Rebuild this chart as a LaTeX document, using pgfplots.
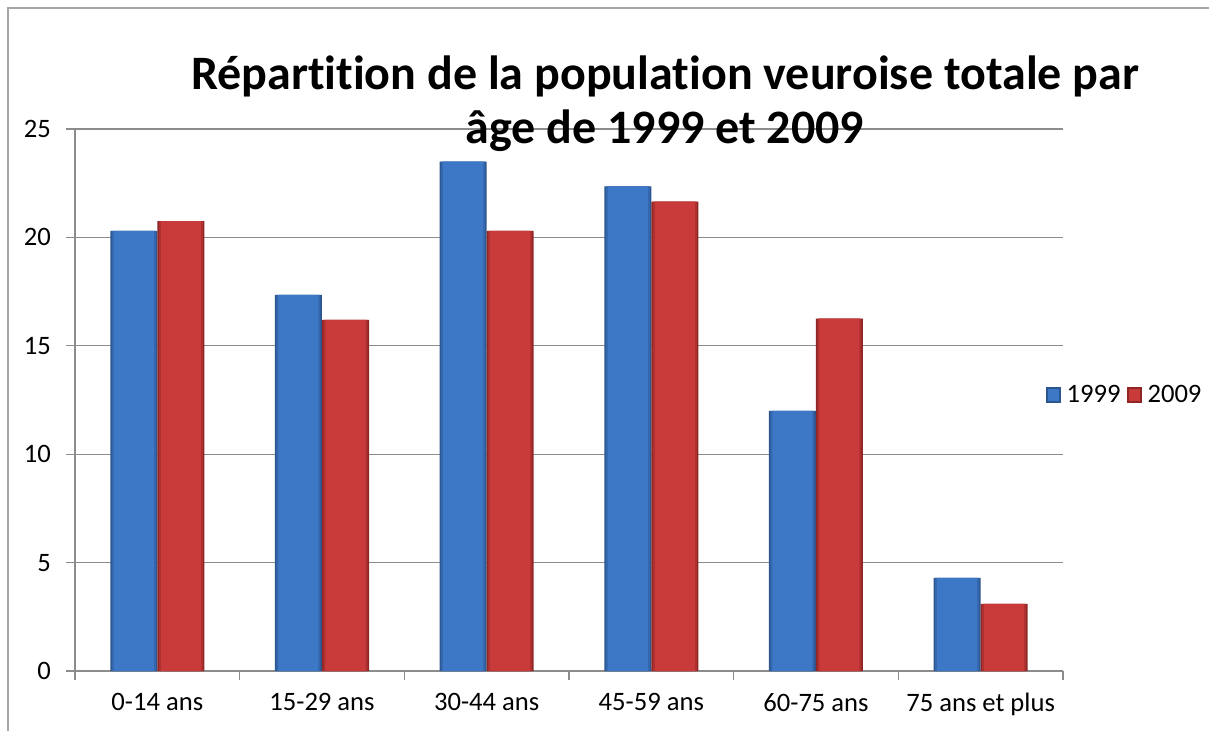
\documentclass[border=0pt]{standalone}
\usepackage{pgfplots}
\pgfplotsset{compat=1.18}
\usepackage{fontspec}
\setmainfont{Carlito}[Ligatures={NoCommon}]
\definecolor{blueedge}{HTML}{2B5690}
\definecolor{bluemid}{HTML}{3467AE}
\definecolor{bluemain}{HTML}{3C78C6}
\definecolor{rededge}{HTML}{8E2626}
\definecolor{redmid}{HTML}{AE3030}
\definecolor{redmain}{HTML}{C93B3B}
\definecolor{gridgray}{HTML}{8C8C8C}
\pgfplotstableread{
x y1999 y2009
0 20.3 20.75
1 17.35 16.2
2 23.5 20.3
3 22.35 21.65
4 12.0 16.25
5 4.3 3.1
}\data
\begin{document}
\begin{tikzpicture}[x=0.5pt,y=-0.5pt]
\path[use as bounding box] (0,0) rectangle (1209,731);
\draw[gray!70, line width=1pt] (8,731) -- (8,8) -- (1209,8);
\begin{axis}[
  at={(37.5pt,-335.5pt)}, anchor=south west,
  scale only axis, width=494pt, height=271pt,
  ybar,
  xmin=-0.5, xmax=5.5, ymin=0, ymax=25,
  ytick={0,5,10,15,20,25},
  xtick={-0.5,0.5,1.5,2.5,3.5,4.5,5.5},
  x tick label as interval,
  xticklabels={0-14 ans,15-29 ans,30-44 ans,45-59 ans,60-75 ans,75 ans et plus},
  ymajorgrids, grid style={gridgray, line width=0.6pt},
  axis x line=bottom, axis y line=left,
  axis line style={-, gridgray, line width=0.6pt},
  tick style={draw=gridgray, line width=0.6pt}, major tick length=4.5pt, tick align=outside,
  ticklabel style={font=\fontsize{13.3}{16}\selectfont, text=black},
  /pgf/number format/assume math mode=true,
  xticklabel style={yshift=-3pt},
  yticklabel style={xshift=-4pt},
  legend columns=2,
  legend style={at={(0.982,0.509)}, anchor=west, draw=none, fill=none,
    font=\fontsize{13.3}{16}\selectfont, column sep=1pt, inner xsep=0pt,
    nodes={inner xsep=2pt}},
]
\addplot[draw=none, fill=blueedge, bar width=23.5pt, bar shift=-11.75pt,
  legend image code/.code={\fill[blueedge] (0pt,-4pt) rectangle (7.5pt,4pt);\fill[bluemain] (1pt,-3pt) rectangle (6.5pt,3pt);}]
  table[x=x,y=y1999] {\data};
\addplot[draw=none, fill=rededge, bar width=23.5pt, bar shift=11.75pt,
  legend image code/.code={\fill[rededge] (0pt,-4pt) rectangle (7.5pt,4pt);\fill[redmain] (1pt,-3pt) rectangle (6.5pt,3pt);}]
  table[x=x,y=y2009] {\data};
\legend{1999,2009}
\addplot[forget plot, draw=none, fill=bluemid, bar width=22pt, bar shift=-11.75pt] table[x=x,y=y1999] {\data};
\addplot[forget plot, draw=none, fill=redmid, bar width=22pt, bar shift=11.75pt] table[x=x,y=y2009] {\data};
\addplot[forget plot, draw=none, fill=bluemain, bar width=20pt, bar shift=-11.75pt] table[x=x,y=y1999] {\data};
\addplot[forget plot, draw=none, fill=redmain, bar width=20pt, bar shift=11.75pt] table[x=x,y=y2009] {\data};
\end{axis}
\node[align=center, font=\fontsize{24}{27}\bfseries\selectfont] at (665,104)
  {Répartition de la population veuroise totale par\\âge de 1999 et 2009};
\end{tikzpicture}
\end{document}
